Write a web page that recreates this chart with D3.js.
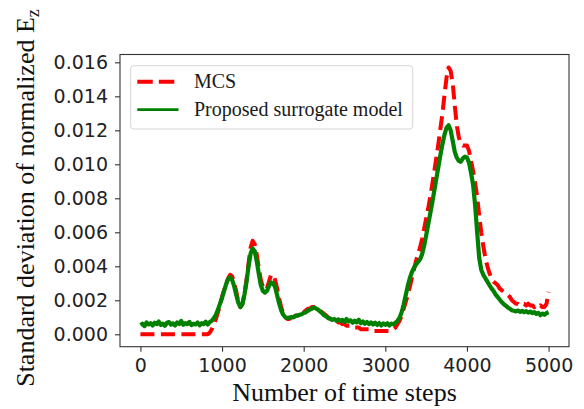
<!DOCTYPE html>
<html>
<head>
<meta charset="utf-8">
<script src="https://cdn.jsdelivr.net/npm/d3@7"></script>
<style>
  html, body { margin: 0; padding: 0; background: #fff; }
  svg { display: block; }
</style>
</head>
<body>
<svg id="chart" width="584" height="409"></svg>
<script>
// ---- data ----
const timeSteps = d3.range(0, 5001, 25);

const mcs = [
  0,0,0,0,0,0,0,0,0,0,
  0,0,0,0,0,0,0,0,0,0,
  0,0,0,0,0,0,0,0,0,0,
  0,0,0,0,0.0001,0.0003,0.0006,0.0009,0.0013,0.0017,
  0.0022,0.0026,0.0030,0.0033,0.0035,0.0034,0.0030,0.0025,0.0019,0.0016,
  0.0018,0.0024,0.0032,0.0042,0.0051,0.0055,0.0053,0.0047,0.0039,0.0032,
  0.0028,0.0026,0.0027,0.0031,0.0035,0.0035,0.0032,0.0027,0.0021,0.0016,
  0.0012,0.0010,0.0009,0.0009,0.0010,0.0010,0.0011,0.0011,0.0012,0.0012,
  0.0013,0.0014,0.0015,0.0015,0.0016,0.0016,0.0016,0.0015,0.0014,0.0013,
  0.0012,0.0011,0.0010,0.0009,0.0009,0.0008,0.0008,0.0007,0.0007,0.0006,
  0.0006,0.0005,0.0005,0.0005,0.0004,0.0004,0.0004,0.0004,0.0003,0.0003,
  0.0003,0.0003,0.0003,0.0002,0.0002,0.0002,0.0002,0.0002,0.0002,0.0002,
  0.0002,0.0002,0.0002,0.0002,0.0003,0.0004,0.0006,0.0008,0.0011,0.0015,
  0.0019,0.0023,0.0028,0.0033,0.0038,0.0043,0.0047,0.0051,0.0056,0.0062,
  0.0068,0.0074,0.0081,0.0088,0.0096,0.0104,0.0112,0.0121,0.0130,0.0141,
  0.0151,0.0157,0.0155,0.0148,0.0135,0.0123,0.0116,0.0112,0.0111,0.0111,
  0.0111,0.0108,0.0102,0.0096,0.0089,0.0081,0.0070,0.0060,0.0052,0.0045,
  0.0040,0.0036,0.0033,0.0031,0.0030,0.0029,0.0027,0.0026,0.0025,0.0024,
  0.0023,0.0022,0.0020,0.0019,0.0018,0.0018,0.0017,0.0018,0.0018,0.0017,
  0.0018,0.0017,0.0017,0.0016,0.0017,0.0016,0.0017,0.0016,0.0016,0.0018,
  0.0025
];

const surrogate = [
  0.00055,0.00062,0.00048,0.00070,0.00058,0.00065,0.00052,0.00068,0.00060,0.00075,
  0.00055,0.00063,0.00050,0.00068,0.00072,0.00057,0.00064,0.00052,0.00070,0.00061,
  0.00078,0.00056,0.00066,0.00060,0.00073,0.00054,0.00062,0.00058,0.00069,0.00053,
  0.00065,0.00060,0.00074,0.00058,0.00072,0.00080,0.00095,0.00115,0.00145,0.00180,
  0.00215,0.00255,0.00295,0.00325,0.00335,0.00318,0.00280,0.00230,0.00185,0.00160,
  0.00178,0.00235,0.00310,0.00400,0.00475,0.00505,0.00490,0.00430,0.00355,0.00290,
  0.00255,0.00245,0.00255,0.00285,0.00305,0.00300,0.00278,0.00230,0.00180,0.00140,
  0.00115,0.00100,0.00095,0.00098,0.00102,0.00100,0.00108,0.00110,0.00115,0.00118,
  0.00125,0.00130,0.00138,0.00145,0.00150,0.00158,0.00152,0.00145,0.00135,0.00125,
  0.00112,0.00105,0.00095,0.00092,0.00085,0.00090,0.00080,0.00088,0.00078,0.00085,
  0.00072,0.00090,0.00075,0.00082,0.00068,0.00080,0.00070,0.00085,0.00065,0.00075,
  0.00062,0.00072,0.00060,0.00070,0.00058,0.00068,0.00055,0.00066,0.00052,0.00064,
  0.00055,0.00065,0.00052,0.00063,0.00058,0.00068,0.00080,0.00098,0.00130,0.00175,
  0.00230,0.00285,0.00330,0.00365,0.00390,0.00410,0.00425,0.00440,0.00470,0.00520,
  0.00580,0.00645,0.00710,0.00775,0.00845,0.00915,0.00985,0.01055,0.01120,0.01175,
  0.01215,0.01230,0.01200,0.01140,0.01075,0.01040,0.01020,0.01015,0.01035,0.01045,
  0.01040,0.01010,0.00950,0.00880,0.00760,0.00600,0.00450,0.00380,0.00350,0.00330,
  0.00310,0.00290,0.00270,0.00255,0.00235,0.00220,0.00205,0.00190,0.00178,0.00168,
  0.00158,0.00150,0.00142,0.00138,0.00135,0.00140,0.00132,0.00138,0.00130,0.00136,
  0.00128,0.00134,0.00125,0.00130,0.00120,0.00126,0.00112,0.00122,0.00115,0.00125,
  0.00130
];

const xTicks = [0, 1000, 2000, 3000, 4000, 5000];
const yTicks = [0, 0.002, 0.004, 0.006, 0.008, 0.010, 0.012, 0.014, 0.016];
const seriesNames = ["MCS", "Proposed surrogate model"];
const seriesColors = ["#ff0000", "#008000"];

// ---- layout ----
const L = 120, R = 569, T = 54.5, B = 346.7;
const svg = d3.select("#chart");

const x = d3.scaleLinear().domain([-250, 5250]).range([L, R]);
const y = d3.scaleLinear().domain([-0.00073, 0.01646]).range([B, T]);

// axes
const xAxis = d3.axisBottom(x).tickValues(xTicks).tickFormat(d3.format("d")).tickSize(5).tickPadding(7);
const yAxis = d3.axisLeft(y).tickValues(yTicks).tickFormat(d3.format(".3f")).tickSize(5).tickPadding(7);

const gx = svg.append("g").attr("transform", `translate(0,${B})`).call(xAxis);
const gy = svg.append("g").attr("transform", `translate(${L},0)`).call(yAxis);
[gx, gy].forEach(g => {
  g.select(".domain").remove();
  g.selectAll(".tick line").attr("stroke", "#333").attr("stroke-width", 1.1);
  g.selectAll(".tick text")
    .attr("font-family", "'DejaVu Sans', sans-serif")
    .attr("font-size", 19)
    .attr("fill", "#222");
});

// lines
const line = d3.line()
  .x((d, i) => x(timeSteps[i]))
  .y(d => y(d));

const plot = svg.append("g");
plot.append("path")
  .datum(mcs)
  .attr("d", line)
  .attr("fill", "none")
  .attr("stroke", seriesColors[0])
  .attr("stroke-width", 4)
  .attr("stroke-dasharray", "14,6.5")
  .attr("stroke-linejoin", "round");

plot.append("path")
  .datum(surrogate)
  .attr("d", line)
  .attr("fill", "none")
  .attr("stroke", seriesColors[1])
  .attr("stroke-width", 4.2)
  .attr("stroke-linejoin", "round");

// frame
svg.append("rect")
  .attr("x", L).attr("y", T)
  .attr("width", R - L).attr("height", B - T)
  .attr("fill", "none")
  .attr("stroke", "#333")
  .attr("stroke-width", 1.1);

// legend
const lg = svg.append("g");
lg.append("rect")
  .attr("x", 130.7).attr("y", 65.7)
  .attr("width", 282).attr("height", 63.3)
  .attr("rx", 3)
  .attr("fill", "#fff").attr("fill-opacity", 0.85)
  .attr("stroke", "#d6d6d6").attr("stroke-width", 1);

const rowY = [81.7, 109.7];
seriesNames.forEach((name, i) => {
  lg.append("line")
    .attr("x1", 137.3).attr("x2", 178.5)
    .attr("y1", rowY[i]).attr("y2", rowY[i])
    .attr("stroke", seriesColors[i])
    .attr("stroke-width", i === 0 ? 4 : 2.8)
    .attr("stroke-dasharray", i === 0 ? "15.5,6" : null);
  lg.append("text")
    .attr("x", 194).attr("y", rowY[i] + 6.5)
    .attr("font-family", "'Liberation Serif', 'Times New Roman', serif")
    .attr("font-size", 20)
    .attr("fill", "#1a1a1a")
    .text(name);
});

// axis titles
svg.append("text")
  .attr("x", (L + R) / 2).attr("y", 401)
  .attr("text-anchor", "middle")
  .attr("font-family", "'Liberation Serif', 'Times New Roman', serif")
  .attr("font-size", 26)
  .attr("fill", "#111")
  .text("Number of time steps");

const yl = svg.append("text")
  .attr("transform", "translate(34,198) rotate(-90)")
  .attr("text-anchor", "middle")
  .attr("font-family", "'Liberation Serif', 'Times New Roman', serif")
  .attr("font-size", 26)
  .attr("fill", "#111");
yl.append("tspan").text("Standard deviation of normalized E");
yl.append("tspan").attr("font-size", 18).attr("dy", 5).text("z");
</script>
</body>
</html>
